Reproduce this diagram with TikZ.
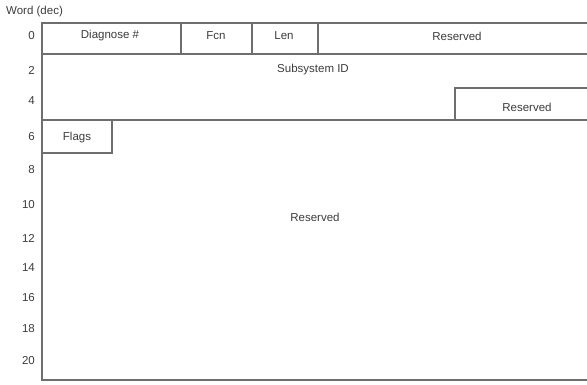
\documentclass[tikz,border=0pt]{standalone}
\usepackage{fontspec}
\setmainfont{Liberation Sans}
\usetikzlibrary{positioning}
\definecolor{linegray}{RGB}{110,110,110}
\definecolor{textgray}{RGB}{60,60,60}
\tikzset{
  frame/.style={draw=linegray, line width=1.6pt},
  divider/.style={draw=linegray, line width=1.2pt},
  lbl/.style={font=\fontsize{11.5}{13}\selectfont, text=textgray, inner sep=0pt},
  wordnum/.style={lbl, anchor=east}
}

\begin{document}
\begin{tikzpicture}[x=1pt, y=-1pt]
\clip (0,0) rectangle (587,384);
\fill[white] (0,0) rectangle (587,384);
% outer frame, open on the right
\draw[frame] (595,23) -- (42,23) -- (42,380) -- (595,380);
% word 0
\draw[divider] (42,54) -- (595,54);
\draw[divider] (181,23) -- (181,54);
\draw[divider] (252,23) -- (252,54);
\draw[divider] (318,23) -- (318,54);
% words 2-5
\draw[divider] (455,120) -- (455,88) -- (595,88);
\draw[divider] (42,120) -- (595,120);
% flags
\draw[divider] (112,120) -- (112,153) -- (42,153);

\node[lbl, anchor=west] (title) at (6,12) {Word (dec)};
\foreach \w/\y in {0/36, 2/70, 4/101, 6/137, 8/170, 10/205, 12/238, 14/268, 16/298, 18/329, 20/361}
  \node[wordnum] (w\w) at (35,\y) {\w};

\node[lbl] (diag) at (110,36) {Diagnose \#};
\node[lbl] (fcn) at (216,36) {Fcn};
\node[lbl] (len) at (284,36) {Len};
\node[lbl] (res0) at (457,36) {Reserved};
\node[lbl] (subid) at (313,70) {Subsystem ID};
\node[lbl] (res4) at (527,107) {Reserved};
\node[lbl] (flags) at (77,138) {Flags};
\node[lbl] (res6) at (315,217) {Reserved};
\end{tikzpicture}
\end{document}
